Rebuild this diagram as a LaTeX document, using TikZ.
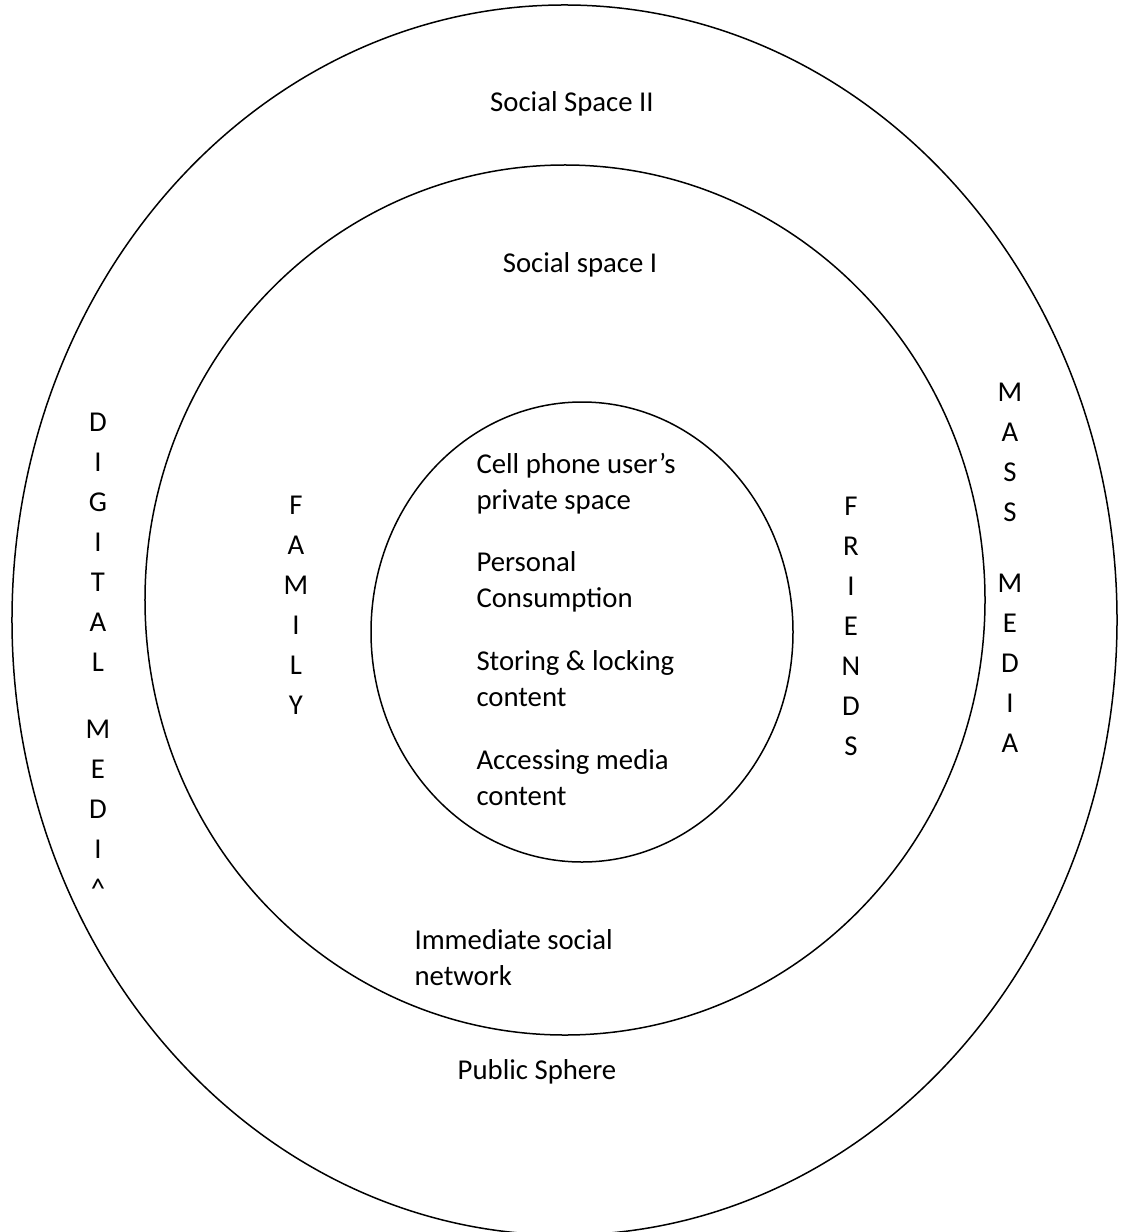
\documentclass[tikz,border=0pt]{standalone}
\usepackage{fontspec}
\setmainfont{Carlito}
\usetikzlibrary{positioning}
\tikzset{
  ring/.style={draw=black, line width=0.6pt},
  lbl/.style={font=\fontsize{11.5pt}{14.4pt}\selectfont, inner sep=0pt},
  block/.style={lbl, align=left},
  column/.style={font=\fontsize{11.5pt}{16pt}\selectfont, inner sep=0pt, align=center},
}

\begin{document}
\begin{tikzpicture}[x=0.4pt, y=-0.4pt]
    \useasboundingbox (0,0) rectangle (1121,1232);
    % the three spaces
    \draw[ring] (564.5,620) ellipse [x radius=221pt, y radius=246pt];
    \draw[ring] (565,600) ellipse [x radius=168pt, y radius=174pt];
    \draw[ring] (582,632) ellipse [x radius=84.4pt, y radius=92pt];

    \node[lbl] (space2) at (572,104) {Social Space II};
    \node[lbl] (space1) at (580,265) {Social space I};
    \node[lbl] (public) at (537,1072) {Public Sphere};
    \node[block, anchor=west] (network) at (414,958) {Immediate social\\network};

    % private space
    \node[block, anchor=west] (priv) at (476,484) {Cell phone user’s\\private space};
    \node[block, anchor=west] (consume) at (476,582) {Personal\\Consumption};
    \node[block, anchor=west] (store) at (476,679) {Storing \& locking\\content};
    \node[block, anchor=west] (access) at (476,778) {Accessing media\\content};

    % vertical words
    \node[column] (digital) at (98,656) {D\\I\\G\\I\\T\\A\\L\\[10.8pt]M\\E\\D\\I\\\textasciicircum};
    \node[column] (family) at (296,605) {F\\A\\M\\I\\L\\Y};
    \node[column] (friends) at (851,626) {F\\R\\I\\E\\N\\D\\S};
    \node[column] (mass) at (1010,568) {M\\A\\S\\S\\[12.4pt]M\\E\\D\\I\\A};
  \end{tikzpicture}
\end{document}
